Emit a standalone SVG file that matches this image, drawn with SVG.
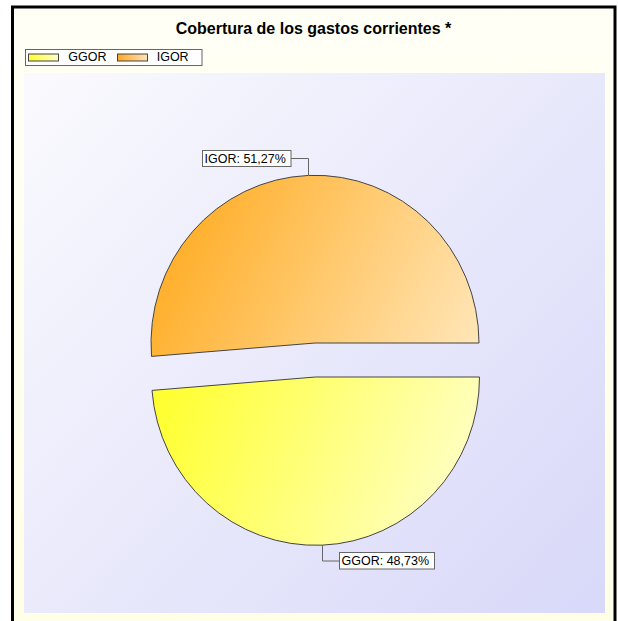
<svg xmlns="http://www.w3.org/2000/svg" width="618" height="621" viewBox="0 0 618 621">
  <style>
    .t { font-family: "Liberation Sans", Arial, sans-serif; fill: #000; }
    .title { font-size: 16px; font-weight: bold; }
    .lbl { font-size: 12.5px; }
    .box { fill: #fff; stroke: #666; stroke-width: 1; }
    .slice { stroke: #444; stroke-width: 1; }
    .lead { fill: none; stroke: #666; stroke-width: 1; }
    .sw { stroke: #444; stroke-width: 1; }
  </style>
  <defs>
    <linearGradient id="bg" x1="0" y1="0" x2="0" y2="1">
      <stop offset="0" stop-color="#FFFFF6"/>
      <stop offset="1" stop-color="#FFFFE8"/>
    </linearGradient>
    <linearGradient id="plot" gradientUnits="userSpaceOnUse" x1="24" y1="73" x2="605" y2="613">
      <stop offset="0" stop-color="#FAFAFE"/>
      <stop offset="1" stop-color="#D8D8F9"/>
    </linearGradient>
    <linearGradient id="gOrange" gradientUnits="userSpaceOnUse" x1="180" y1="220" x2="470" y2="360">
      <stop offset="0" stop-color="#FFAE28"/>
      <stop offset="1" stop-color="#FFE6B8"/>
    </linearGradient>
    <linearGradient id="gYellow" gradientUnits="userSpaceOnUse" x1="165" y1="400" x2="470" y2="530">
      <stop offset="0" stop-color="#FFFF33"/>
      <stop offset="1" stop-color="#FFFFCE"/>
    </linearGradient>
    <linearGradient id="swY" x1="0" y1="0" x2="1" y2="0">
      <stop offset="0" stop-color="#FFFF30"/>
      <stop offset="1" stop-color="#FFFFC8"/>
    </linearGradient>
    <linearGradient id="swO" x1="0" y1="0" x2="1" y2="0">
      <stop offset="0" stop-color="#FFA726"/>
      <stop offset="1" stop-color="#FFE4B8"/>
    </linearGradient>
  </defs>

  <rect x="0" y="0" width="618" height="621" fill="#fff"/>
  <g id="frame">
    <rect x="12.5" y="7" width="602.5" height="640" fill="url(#bg)" stroke="#000" stroke-width="3"/>
    <rect x="24" y="73" width="581" height="540" fill="url(#plot)"/>
  </g>

  <g id="title">
    <text class="t title" x="313.5" y="34" text-anchor="middle">Cobertura de los gastos corrientes *</text>
  </g>

  <g id="legend">
    <rect x="25.5" y="49.5" width="176.5" height="16" fill="#fff" stroke="#666" stroke-width="1"/>
    <rect class="sw" x="28.5" y="54" width="30" height="7" fill="url(#swY)"/>
    <text class="t lbl" x="68.3" y="61">GGOR</text>
    <rect class="sw" x="117.5" y="54" width="30" height="7" fill="url(#swO)"/>
    <text class="t lbl" x="156.7" y="61">IGOR</text>
  </g>

  <g id="slice-igor">
    <path class="slice" fill="url(#gOrange)" d="M 315 343 L 479 343 A 164 168 0 1 0 151.5 356.4 Z"/>
  </g>
  <g id="slice-ggor">
    <path class="slice" fill="url(#gYellow)" d="M 315.5 377 L 152 390.4 A 164 168 0 0 0 479.5 377 Z"/>
  </g>

  <g id="connectors">
    <polyline class="lead" points="291,158.5 308.5,158.5 308.5,175"/>
    <polyline class="lead" points="322.5,545 322.5,561 339.5,561"/>
  </g>

  <g id="label-igor">
    <rect class="box" x="202.5" y="150.5" width="88.5" height="16"/>
    <text class="t lbl" x="204.5" y="162.5">IGOR: 51,27%</text>
  </g>
  <g id="label-ggor">
    <rect class="box" x="339.5" y="552.5" width="95" height="16.5"/>
    <text class="t lbl" x="341.5" y="565">GGOR: 48,73%</text>
  </g>
</svg>
